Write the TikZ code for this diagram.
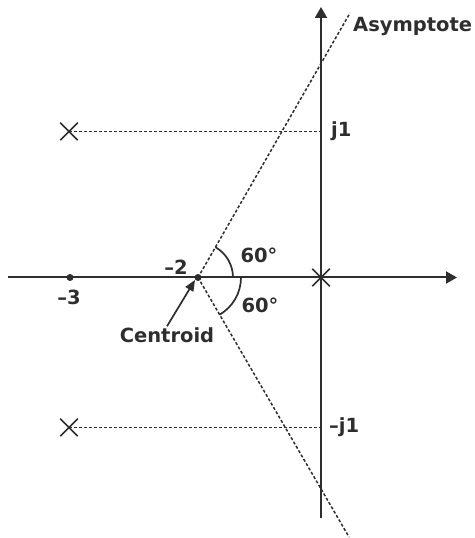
\documentclass[tikz,border=0pt]{standalone}
\usepackage{fontspec}
\setmainfont{DejaVu Sans}
\usetikzlibrary{arrows.meta,shapes.misc}
\definecolor{ink}{HTML}{2E2E2E}
\tikzset{
  axisline/.style={draw=ink,line width=2pt,-{Triangle[length=11pt,width=12pt]}},
  dashline/.style={draw=ink,line width=1.5pt,dash pattern=on 3pt off 2pt},
  pole/.style={cross out,draw=ink,line width=1.5pt,minimum size=16pt,inner sep=0pt},
  dotpt/.style={circle,fill=ink,minimum size=7pt,inner sep=0pt},
  lbl/.style={text=ink,font=\fontsize{19.5}{22}\selectfont\bfseries,inner sep=0pt},
  anglearc/.style={draw=ink,line width=1.7pt},
}
\begin{document}
\begin{tikzpicture}[x=1pt,y=1pt]
\useasboundingbox (0,0) rectangle (474,538);
% key points
\coordinate (xl) at (8,260.5);
\coordinate (xr) at (457,260.5);
\coordinate (yb) at (321,20);
\coordinate (yt) at (321,531);
\coordinate (o) at (321,260.5);
\coordinate (jp) at (321,406.5);
\coordinate (jm) at (321,110.5);
\coordinate (atop) at (350,525);
\coordinate (abot) at (349,1);
% axes
\draw[axisline] (xl) -- (xr);
\draw[axisline] (yb) -- (yt);
% asymptotes
\node[dotpt] (c) at (198,260.5) {};
\draw[dashline] (c.center) -- (atop);
\draw[dashline] (c.center) -- (abot);
% poles and zero
\node[pole] (p1) at (69,406.5) {};
\node[pole] (p2) at (69,110.5) {};
\node[pole] (p0) at (o) {};
\node[dotpt] (z) at (70,260.5) {};
\draw[dashline] (p1.center) -- (jp);
\draw[dashline] (p2.center) -- (jm);
% angle arcs
\draw[anglearc] ([shift={(0:35)}]c.center) arc[start angle=0,end angle=60,radius=35];
\draw[anglearc] ([shift={(0:43)}]c.center) arc[start angle=0,end angle=-60,radius=43];
% labels
\node[lbl,anchor=west] (asy) at (353,511) {Asymptote};
\node[lbl,anchor=west] (j1) at (331,406.5) {j1};
\node[lbl,anchor=west] (mj1) at (329,110.5) {–j1};
\node[lbl] (m2) at (176,271) {–2};
\node[lbl] (m3) at (69,241) {–3};
\node[lbl] (a1) at (259,283) {60°};
\node[lbl] (a2) at (260,233) {60°};
\node[lbl] (cen) at (167,203) {Centroid};
\draw[draw=ink,line width=1.7pt,-{Triangle[length=11pt,width=9pt]}] (cen.north) ++(0,1) -- (195,258);
\end{tikzpicture}
\end{document}
